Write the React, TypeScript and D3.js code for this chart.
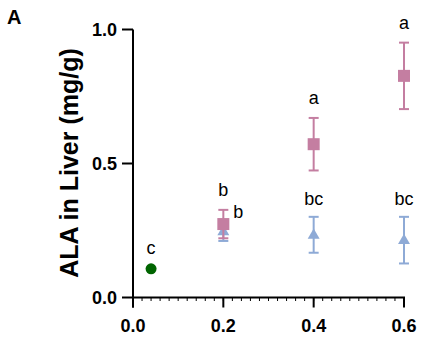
import React from 'react'
import * as d3 from 'd3'

// ALA dose groups (x) and liver ALA (mg/g)
const doses = [0.2, 0.4, 0.6]
const pinkMean = [0.274, 0.572, 0.827]
const pinkErr = [0.053, 0.098, 0.124]
const blueMean = [0.247, 0.234, 0.214]
const blueErr = [0.036, 0.067, 0.087]
const controlDose = [0.04]
const controlMean = [0.107]

const pinkLetters = ['b', 'a', 'a']
const blueLetters = ['b', 'bc', 'bc']
const controlLetters = ['c']

const xTicks = [0, 0.2, 0.4, 0.6]
const yTicks = [0, 0.5, 1.0]

const W = 422, H = 343
const PINK = '#c47ea1', BLUE = '#8eaad6', GREEN = '#006400'
const FONT = '"Liberation Sans", Arial, Helvetica, sans-serif'

export default function App(){
  const x = d3.scaleLinear().domain([0, 0.6]).range([133, 404])
  const y = d3.scaleLinear().domain([0, 1]).range([297.5, 29.5])
  const minor = d3.range(0, 0.6001, 0.02)
  const tri = d3.symbol().type(d3.symbolTriangle).size(62)()
  const cap = 5

  const errBar = (xv:number, m:number, e:number, color:string, key:string) => (
    <g key={key} stroke={color} strokeWidth={2} fill="none">
      <line x1={x(xv)} x2={x(xv)} y1={y(m + e)} y2={y(m - e)} />
      <line x1={x(xv) - cap} x2={x(xv) + cap} y1={y(m + e)} y2={y(m + e)} />
      <line x1={x(xv) - cap} x2={x(xv) + cap} y1={y(m - e)} y2={y(m - e)} />
    </g>
  )

  return (
    <svg width={W} height={H} viewBox={`0 0 ${W} ${H}`}
      style={{position:'absolute', left:0, top:0, background:'#fff'}} fontFamily={FONT}>
      <text x={7} y={23.5} fontSize={20} fontWeight="bold">A</text>

      {/* y axis title */}
      <text transform="translate(78,163) rotate(-90)" textAnchor="middle" fontSize={25} fontWeight="bold">
        ALA in Liver (mg/g)
      </text>

      {/* axes */}
      <g stroke="#000" strokeWidth={2}>
        <line x1={x(0)} x2={x(0)} y1={y(1)} y2={y(0) + 10} />
        <line x1={x(0)} x2={x(0.6) + 1} y1={y(0)} y2={y(0)} />
        {yTicks.map(t => <line key={'yt'+t} x1={x(0) - 11} x2={x(0)} y1={y(t)} y2={y(t)} />)}
        {xTicks.map(t => <line key={'xt'+t} x1={x(t)} x2={x(t)} y1={y(0)} y2={y(0) + 10} />)}
      </g>
      <g stroke="#000" strokeWidth={1}>
        {minor.map((t, i) => <line key={'mt'+i} x1={x(t)} x2={x(t)} y1={y(0)} y2={y(0) + 3.5} />)}
      </g>
      <g fontSize={18} fontWeight="bold">
        {yTicks.map(t => (
          <text key={'yl'+t} x={117} y={y(t)} dy="0.36em" textAnchor="end">{d3.format('.1f')(t)}</text>
        ))}
        {xTicks.map(t => (
          <text key={'xl'+t} x={x(t)} y={331.5} textAnchor="middle">{d3.format('.1f')(t)}</text>
        ))}
      </g>

      {/* blue series */}
      {doses.map((d, i) => errBar(d, blueMean[i], blueErr[i], BLUE, 'be'+i))}
      {doses.map((d, i) => (
        <path key={'bp'+i} d={tri} fill={BLUE} transform={`translate(${x(d)},${y(blueMean[i]) + 0.5})`} />
      ))}

      {/* pink series */}
      {doses.map((d, i) => errBar(d, pinkMean[i], pinkErr[i], PINK, 'pe'+i))}
      {doses.map((d, i) => (
        <rect key={'pp'+i} x={x(d) - 6} y={y(pinkMean[i]) - 6} width={12} height={12} fill={PINK} />
      ))}

      {/* control */}
      {controlDose.map((d, i) => (
        <circle key={'c'+i} cx={x(d)} cy={y(controlMean[i])} r={5.5} fill={GREEN} />
      ))}

      {/* significance letters */}
      <g fontSize={18} textAnchor="middle">
        {doses.map((d, i) => (
          <text key={'pl'+i} x={x(d)} y={y(pinkMean[i] + pinkErr[i]) - 14}>{pinkLetters[i]}</text>
        ))}
        {doses.map((d, i) => i === 0
          ? <text key={'bl'+i} x={x(d) + 10} y={y(pinkMean[i]) - 6} textAnchor="start">{blueLetters[i]}</text>
          : <text key={'bl'+i} x={x(d)} y={y(blueMean[i] + blueErr[i]) - 11.5}>{blueLetters[i]}</text>
        )}
        {controlDose.map((d, i) => (
          <text key={'cl'+i} x={x(d)} y={y(controlMean[i]) - 15}>{controlLetters[i]}</text>
        ))}
      </g>
    </svg>
  )
}
